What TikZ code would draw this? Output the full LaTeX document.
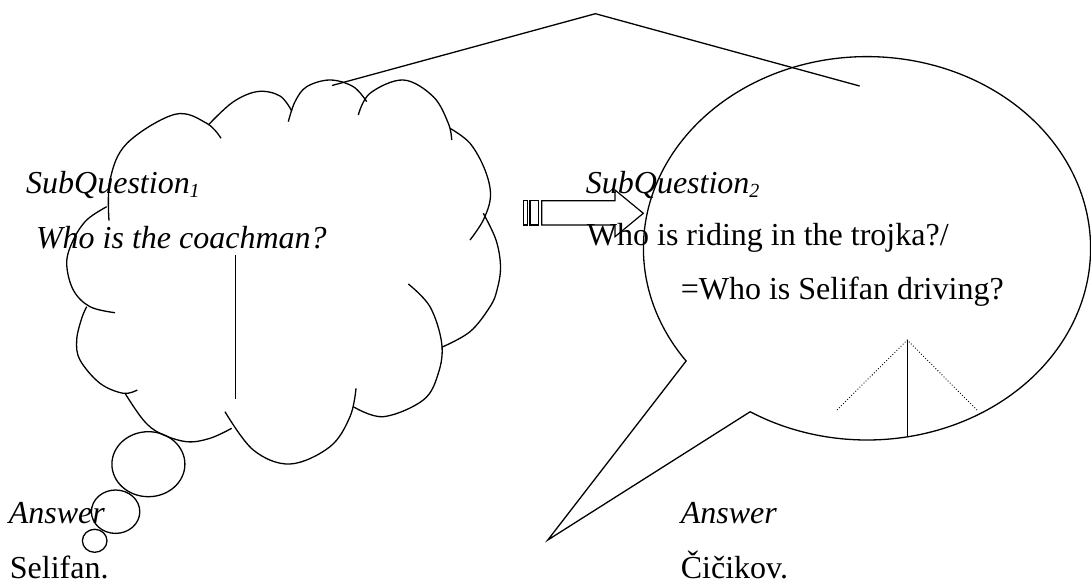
\documentclass[tikz,border=0pt]{standalone}
\usepackage{fontspec}
\setmainfont{Liberation Serif}
\usetikzlibrary{shapes.geometric}
\begin{document}
\begin{tikzpicture}[x=1pt,y=-1pt,
  ln/.style={line width=1.3pt, line join=miter},
  dots/.style={line width=0.9pt, dotted},
  lobe/.style={ln, smooth, tension=0.6},
  txt/.style={anchor=base west, inner sep=0pt, font=\fontsize{32}{32}\selectfont},
  itxt/.style={txt, font=\fontsize{32}{32}\selectfont\itshape}]
\useasboundingbox (0,0) rectangle (1091,585);

% top bracket lines
\coordinate (apex) at (595.4,13.7);
\coordinate (tl) at (332,85.5);
\coordinate (tr) at (859.6,86);
\draw[ln] (tl) -- (apex) -- (tr);

% cloud lobes
\draw[lobe] plot coordinates {(109,220.7) (110,180) (127,143.3) (175,114.3) (206.7,123.3) (221,138.3)};
\draw[lobe] plot coordinates {(208.3,125) (233,102) (258,91.5) (280,96) (291.7,111)};
\draw[lobe] plot coordinates {(288.3,121.7) (295,101.7) (306.7,86.7) (330,80) (353.3,86.7) (366.7,101.7)};
\draw[lobe] plot coordinates {(358.3,115) (370,93.3) (403.3,80) (433.3,96.7) (448.3,123.3) (451.7,140)};
\draw[lobe] plot coordinates {(450,128.3) (470,143.3) (485,170) (490.5,196) (483.3,220) (470,240)};
\draw[lobe] plot coordinates {(483.3,213.3) (496,240) (500.5,266.7) (497,290) (490,306.7) (470,331.7) (441.7,347.3)};
\draw[lobe] plot coordinates {(408.3,284) (430,306.7) (441.7,343.3) (438.3,373.3) (423.3,400) (383.3,416.7) (353.3,406.7)};
\draw[lobe] plot coordinates {(356,388.3) (350,416.7) (330,446.7) (290,464) (253.3,450) (225,411.7)};
\draw[lobe] plot coordinates {(231.7,428.3) (210,438.3) (186.7,441.7) (160,433.3) (143.3,420) (125,393.3)};
\draw[lobe] plot coordinates {(137.3,390) (123.3,393.3) (100,383.3) (80,360) (76.7,340) (81.7,318.3) (86.7,306.7)};
\draw[lobe] plot coordinates {(115,312.7) (90,306.7) (73.3,290) (66.7,263) (73.3,240) (86.7,220) (106.7,206.7)};

% thought bubbles
\node[ln, draw, ellipse, minimum width=73pt, minimum height=65pt, inner sep=0pt] (b1) at (148.4,464.2) {};
\node[ln, draw, ellipse, minimum width=48.4pt, minimum height=43.4pt, inner sep=0pt] (b2) at (115.6,511.7) {};
\node[ln, draw, ellipse, minimum width=24.6pt, minimum height=23pt, inner sep=0pt] (b3) at (94.7,540.8) {};

% vertical line in cloud
\coordinate (v1t) at (235.7,255);
\coordinate (v1b) at (235.7,399);
\draw[ln] (v1t) -- (v1b);

% speech bubble
\coordinate (tailR) at ({867+223.6*cos(121.5)},{248.3+191.7*sin(121.5)});
\coordinate (tip) at (547.8,540);
\coordinate (tailL) at ({867+223.6*cos(144)},{248.3+191.7*sin(144)});
\draw[ln] (tailR) -- (tip) -- (tailL)
  -- plot[domain=144:481.5, samples=240, smooth] ({867+223.6*cos(\x)},{248.3+191.7*sin(\x)}) -- cycle;

% tree inside speech bubble
\coordinate (tapex) at (907.2,340);
\coordinate (tdl) at (837,410);
\coordinate (tdr) at (977.7,410.7);
\coordinate (tbot) at (907.2,437);
\draw[dots] (tdl) -- (tapex) -- (tdr);
\draw[ln] (tapex) -- (tbot);

% block arrow
\draw[ln, line width=1.2pt] (523.3,200.7) rectangle (527.3,225);
\draw[ln, line width=1.2pt] (530,200.7) rectangle (538.3,225);
\draw[ln, line width=1.2pt] (541.7,200.7) -- (615,200.7) -- (615,190) -- (643.3,213.3)
  -- (615,236.7) -- (615,225) -- (541.7,225) -- cycle;

% texts
\node[itxt] (sq1) at (26,194) {SubQuestion\raisebox{-4pt}{\fontsize{20}{20}\selectfont 1}};
\node[itxt] (q1) at (35.8,248) {Who is the coachman?};
\node[itxt] (sq2) at (585.7,194) {SubQuestion\raisebox{-4pt}{\fontsize{20}{20}\selectfont 2}};
\node[txt] (q2) at (586.7,246) {Who is riding in the trojka?/};
\node[txt] (q2b) at (680.6,299) {=Who is Selifan driving?};
\node[itxt] (a1) at (8.7,523.3) {Answer};
\node[txt] (a1t) at (9.7,578) {Selifan.};
\node[itxt] (a2) at (680.6,523.3) {Answer};
\node[txt] (a2t) at (680.6,578) {Čičikov.};
\end{tikzpicture}
\end{document}
